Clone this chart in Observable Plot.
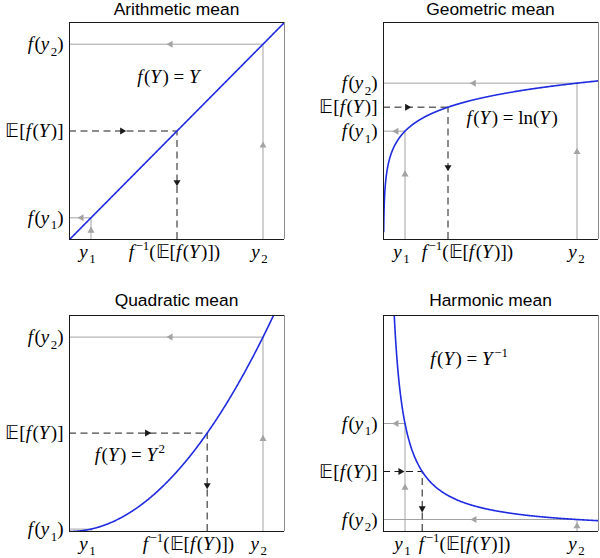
<!DOCTYPE html>
<html><head><meta charset="utf-8">
<script src="https://cdn.jsdelivr.net/npm/d3@7"></script>
<script src="https://cdn.jsdelivr.net/npm/@observablehq/plot@0.6"></script>
<style>
body{margin:0;background:#fff;}
#root{position:relative;width:600px;height:558px;overflow:hidden;background:#fff;}
.title{position:absolute;font-family:"Liberation Sans",Arial,sans-serif;font-size:17.4px;line-height:18px;text-align:center;color:#000;white-space:nowrap;}
.panel{position:absolute;}
</style></head><body><div id="root"></div>
<script>
// ---------- data ----------
const sampleY1 = 0.1, sampleY2 = 0.9;
const panelTitles = ["Arithmetic mean", "Geometric mean", "Quadratic mean", "Harmonic mean"];
const formulaTexts = ["f(Y) = Y", "f(Y) = ln(Y)", "f(Y) = Y^{2}", "f(Y) = Y^{−1}"];
const yTickLabels = ["f(y_1)", "𝔼[f(Y)]", "f(y_2)"];
const xTickLabels = ["y_1", "f^{−1}(𝔼[f(Y)])", "y_2"];
const yDomains = [[0, 1], [-7.26, 2.67], [0, 0.9], [0, 20]];
const curveStart = [0, 0.001, 0, 0.04];
const formulaX = [0.46, 0.598, 0.281, 0.398];
const formulaY = [0.747, -1.675, 0.321, 15.97];
const xLabelX = [[0.084, 0.488, 0.884], [0.084, 0.39, 0.898], [0.084, 0.553, 0.88], [0.088, 0.377, 0.898]];
// arrow positions: horizontal arrows (f(y1), f(y2), E) at x; vertical arrows (y1, y2, f^-1) at y
const hArrowX = [[0.056, 0.47, 0.245], [0.06, 0.42, 0.11], [null, 0.47, 0.361], [0.06, 0.423, 0.079]];
const vArrowY = [[0.041, 0.433, 0.264], [-4.28, -3.26, -3.95], [null, 0.386, 0.193], [4.06, 0.49, 2.14]];
const transforms = [v => v, Math.log, v => v * v, v => 1 / v];
const inverses = [v => v, Math.exp, Math.sqrt, v => 1 / v];

// ---------- layout ----------
const panels = [
  {left: 0,   top: 16,  h: 263, ml: 69, mr: 16, mt: 6, mb: 40, titleTop: -0.5, xdy: 18},
  {left: 300, top: 16,  h: 263, ml: 83, mr: 2,  mt: 6, mb: 40, titleTop: -0.5, xdy: 18},
  {left: 0,   top: 309, h: 249, ml: 69, mr: 16, mt: 6, mb: 27, titleTop: 291.2, xdy: 18},
  {left: 300, top: 309, h: 249, ml: 83, mr: 2,  mt: 6, mb: 27, titleTop: 291.2, xdy: 18}
];
const SERIF = "'Liberation Serif','Times New Roman',serif";
const FS = 19;
const BLUE = "#1f2be0", GREY = "#a3a3a3", DARK = "#1a1a1a";

function parseMarkup(s) {
  const out = []; let i = 0;
  while (i < s.length) {
    const c = s[i];
    if (c === "_" || c === "^") {
      const mode = c === "_" ? "sub" : "sup"; i++;
      let g;
      if (s[i] === "{") { const j = s.indexOf("}", i); g = s.slice(i + 1, j); i = j + 1; }
      else { g = String.fromCodePoint(s.codePointAt(i)); i += g.length; }
      out.push({t: g, mode});
    } else {
      const cp = String.fromCodePoint(s.codePointAt(i)); i += cp.length;
      out.push({t: cp, mode: "base"});
    }
  }
  return out;
}
function richify(node, size) {
  const toks = parseMarkup(node.textContent);
  const groups = [];
  for (const tk of toks) {
    const italic = tk.mode === "base" && /[fyY]/.test(tk.t);
    const last = groups[groups.length - 1];
    if (last && last.mode === tk.mode && last.italic === italic) last.t += tk.t;
    else groups.push({t: tk.t, mode: tk.mode, italic});
  }
  node.textContent = "";
  let offset = 0, prevItalic = false;
  for (const g of groups) {
    const ts = document.createElementNS("http://www.w3.org/2000/svg", "tspan");
    const target = g.mode === "sub" ? size * 0.28 : g.mode === "sup" ? -size * 0.42 : 0;
    if (target !== offset) { ts.setAttribute("dy", target - offset); offset = target; }
    if (prevItalic) ts.setAttribute("dx", size * 0.08);
    if (g.mode !== "base") ts.setAttribute("font-size", size * 0.68);
    ts.setAttribute("font-style", g.italic ? "italic" : "normal");
    ts.textContent = g.t;
    node.appendChild(ts);
    prevItalic = g.italic;
  }
}

const root = document.getElementById("root");
panels.forEach((p, k) => {
  const f = transforms[k], finv = inverses[k];
  const yd = yDomains[k];
  const fy1 = f(sampleY1), fy2 = f(sampleY2);
  const E = (fy1 + fy2) / 2;
  const m = finv(E);
  const n = 400;
  const x0 = curveStart[k];
  const curve = d3.range(n + 1).map(i => {
    const x = k === 1 ? x0 * Math.pow(1 / x0, i / n) : x0 + (1 - x0) * i / n;
    return {x, y: f(x)};
  });
  const greyV = [{x: sampleY1, a: yd[0], b: fy1}, {x: sampleY2, a: yd[0], b: fy2}];
  const greyH = [{y: fy1, b: sampleY1}, {y: fy2, b: sampleY2}];
  const hA = [
    {x: hArrowX[k][0], y: fy1, rot: -90, c: GREY},
    {x: hArrowX[k][1], y: fy2, rot: -90, c: GREY},
    {x: hArrowX[k][2], y: E, rot: 90, c: DARK}
  ];
  const vA = [
    {x: sampleY1, y: vArrowY[k][0], rot: 0, c: GREY},
    {x: sampleY2, y: vArrowY[k][1], rot: 0, c: GREY},
    {x: m, y: vArrowY[k][2], rot: 180, c: DARK}
  ];
  const arrows = hA.concat(vA).filter(d => d.x != null && d.y != null);
  const yLabels = [
    {y: fy1, label: yTickLabels[0]},
    {y: E, label: yTickLabels[1]},
    {y: fy2, label: yTickLabels[2]}
  ];
  const xLabels = xTickLabels.map((label, i) => ({x: xLabelX[k][i], label}));

  const chart = Plot.plot({
    width: 300, height: p.h,
    marginLeft: p.ml, marginRight: p.mr, marginTop: p.mt, marginBottom: p.mb,
    x: {domain: [0, 1], axis: null},
    y: {domain: yd, axis: null},
    style: {background: "transparent", overflow: "visible"},
    marks: [
      Plot.ruleX(greyV, {x: "x", y1: "a", y2: "b", stroke: GREY, strokeWidth: 1}),
      Plot.ruleY(greyH, {y: "y", x1: 0, x2: "b", stroke: GREY, strokeWidth: 1}),
      Plot.ruleY([{y: E, b: m}], {y: "y", x1: 0, x2: "b", stroke: DARK, strokeWidth: 1, strokeDasharray: "7,4.5"}),
      Plot.ruleX([{x: m, a: yd[0], b: E}], {x: "x", y1: "a", y2: "b", stroke: DARK, strokeWidth: 1, strokeDasharray: "7,4.5"}),
      Plot.line(curve, {x: "x", y: "y", stroke: BLUE, strokeWidth: 1.6, clip: true}),
      Plot.dot(arrows, {x: "x", y: "y", symbol: "triangle", r: 2.6, fill: "c", stroke: null, rotate: "rot"}),
      Plot.ruleX([0], {stroke: DARK, strokeWidth: 1}),
      Plot.ruleX([1], {stroke: "#8c8c8c", strokeWidth: 1}),
      Plot.ruleY([yd[0], yd[1]], {stroke: DARK, strokeWidth: 1}),
      Plot.text([{x: formulaX[k], y: formulaY[k], label: formulaTexts[k]}], {x: "x", y: "y", text: "label", fontSize: FS, fontFamily: SERIF, fill: "#000"}),
      Plot.text(yLabels, {x: 0, y: "y", text: "label", textAnchor: "end", dx: -6, fontSize: FS, fontFamily: SERIF, fill: "#000"}),
      Plot.text(xLabels, {x: "x", y: yd[0], text: "label", dy: p.xdy, lineAnchor: "bottom", fontSize: FS, fontFamily: SERIF, fill: "#000"})
    ]
  });
  chart.querySelectorAll("text").forEach(t => richify(t, FS));
  const wrap = document.createElement("div");
  wrap.className = "panel";
  wrap.style.left = p.left + "px";
  wrap.style.top = p.top + "px";
  wrap.appendChild(chart);
  root.appendChild(wrap);

  const title = document.createElement("div");
  title.className = "title";
  title.textContent = panelTitles[k];
  title.style.left = (p.left + p.ml) + "px";
  title.style.width = (300 - p.ml - p.mr) + "px";
  title.style.top = p.titleTop + "px";
  root.appendChild(title);
});
</script>
</body></html>
